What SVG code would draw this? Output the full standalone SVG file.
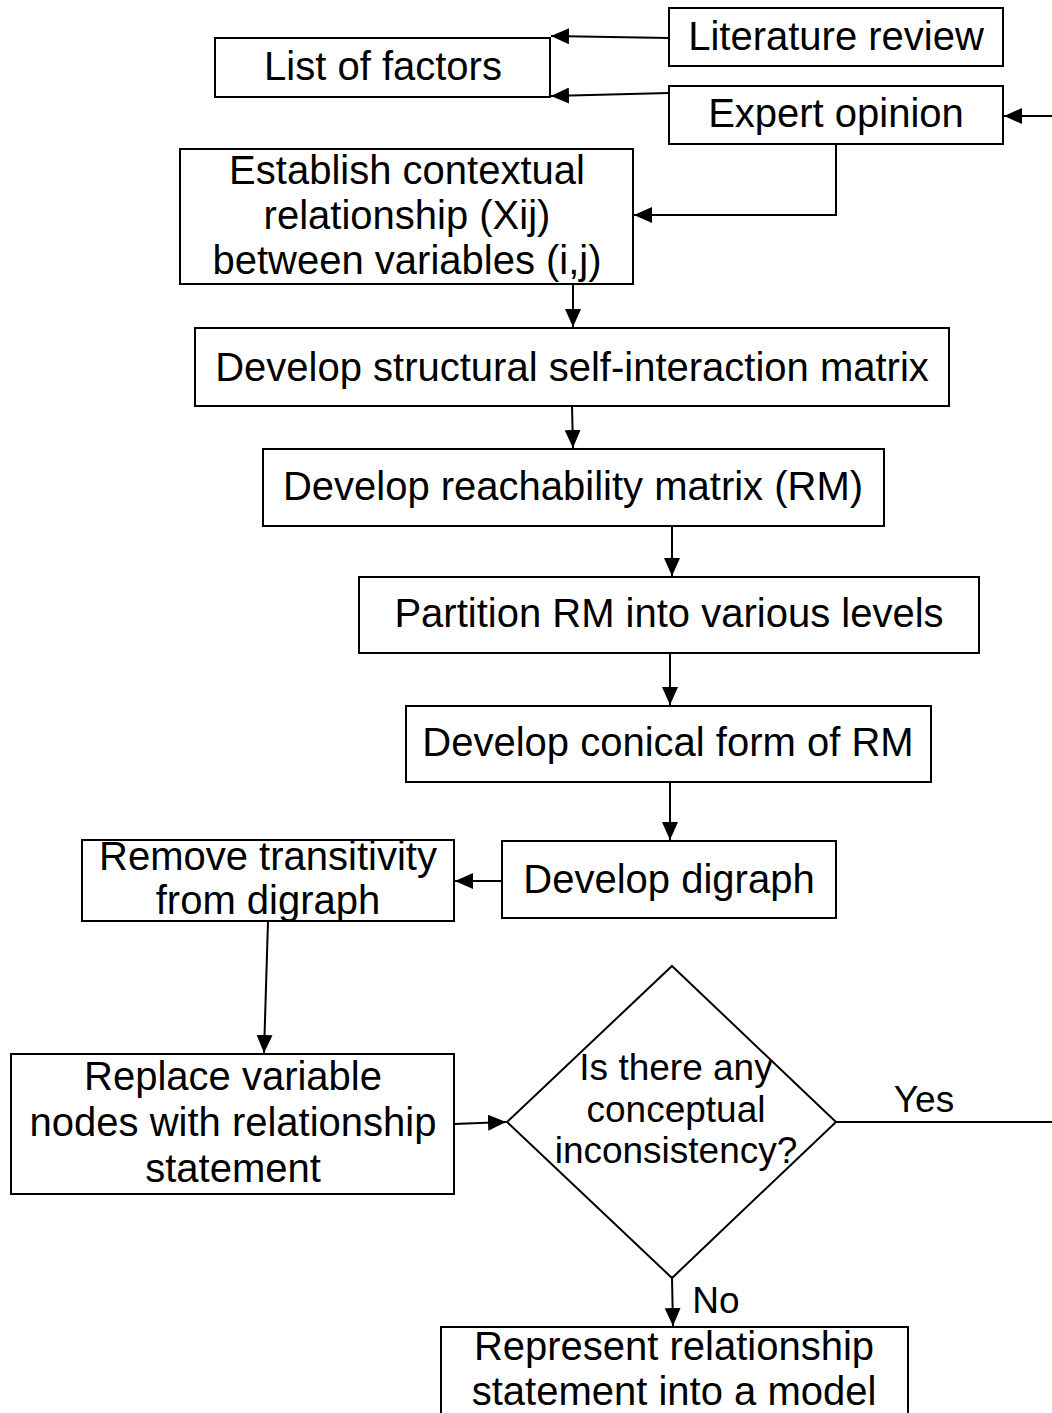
<svg xmlns="http://www.w3.org/2000/svg" width="1052" height="1413" viewBox="0 0 1052 1413">
<style>
.box{fill:#fff;stroke:#000;stroke-width:2}
.t{font-family:"Liberation Sans",Arial,sans-serif;font-size:40px;fill:#000;text-anchor:middle}
.d{font-family:"Liberation Sans",Arial,sans-serif;font-size:37px;fill:#000;text-anchor:middle}
.c{fill:none;stroke:#000;stroke-width:2}
</style>
<defs>
<marker id="ah" viewBox="0 0 18 16" refX="18" refY="8" markerWidth="18" markerHeight="16" markerUnits="userSpaceOnUse" orient="auto">
<path d="M0,0 L18,8 L0,16 Z" fill="#000"/>
</marker>
</defs>
<rect width="1052" height="1413" fill="#fff"/>
<g id="connectors">
<path class="c" d="M669,38 L551,36" marker-end="url(#ah)"/>
<path class="c" d="M669,93 L551,96" marker-end="url(#ah)"/>
<path class="c" d="M836,144 L836,215 L634,215" marker-end="url(#ah)"/>
<path class="c" d="M573,284 L573,327" marker-end="url(#ah)"/>
<path class="c" d="M572,406 L573,448" marker-end="url(#ah)"/>
<path class="c" d="M672,526 L672,576" marker-end="url(#ah)"/>
<path class="c" d="M670,653 L670,705" marker-end="url(#ah)"/>
<path class="c" d="M670,782 L670,840" marker-end="url(#ah)"/>
<path class="c" d="M502,881 L455,881" marker-end="url(#ah)"/>
<path class="c" d="M268,921 L264,1053" marker-end="url(#ah)"/>
<path class="c" d="M454,1124 L506,1122" marker-end="url(#ah)"/>
<path class="c" d="M836,1122 L1054,1122 L1054,116 L1004,116" marker-end="url(#ah)"/>
<path class="c" d="M672,1278 L673,1326" marker-end="url(#ah)"/>
<text class="d" x="924" y="1112">Yes</text>
<text class="d" x="716" y="1313">No</text>
</g>
<g id="lit"><rect class="box" x="669" y="8" width="334" height="58"/><text class="t" x="836" y="50">Literature review</text></g>
<g id="list"><rect class="box" x="215" y="38" width="335" height="59"/><text class="t" x="383" y="80">List of factors</text></g>
<g id="expert"><rect class="box" x="669" y="86" width="334" height="58"/><text class="t" x="836" y="127">Expert opinion</text></g>
<g id="establish"><rect class="box" x="180" y="149" width="453" height="135"/>
<text class="t" x="407" y="184">Establish contextual</text>
<text class="t" x="407" y="229">relationship (Xij)</text>
<text class="t" x="407" y="274">between variables (i,j)</text></g>
<g id="ssim"><rect class="box" x="195" y="328" width="754" height="78"/><text class="t" x="572" y="381">Develop structural self-interaction matrix</text></g>
<g id="rm"><rect class="box" x="263" y="449" width="621" height="77"/><text class="t" x="573" y="500">Develop reachability matrix (RM)</text></g>
<g id="partition"><rect class="box" x="359" y="577" width="620" height="76"/><text class="t" x="669" y="627">Partition RM into various levels</text></g>
<g id="conical"><rect class="box" x="406" y="706" width="525" height="76"/><text class="t" x="668" y="756">Develop conical form of RM</text></g>
<g id="digraph"><rect class="box" x="502" y="841" width="334" height="77"/><text class="t" x="669" y="893">Develop digraph</text></g>
<g id="remove"><rect class="box" x="82" y="840" width="372" height="81"/>
<text class="t" x="268" y="870">Remove transitivity</text>
<text class="t" x="268" y="914">from digraph</text></g>
<g id="replace"><rect class="box" x="11" y="1054" width="443" height="140"/>
<text class="t" x="233" y="1090">Replace variable</text>
<text class="t" x="233" y="1136">nodes with relationship</text>
<text class="t" x="233" y="1182">statement</text></g>
<g id="decision"><polygon class="box" points="672,966 836,1122 672,1278 507,1122"/>
<text class="d" x="676" y="1080">Is there any</text>
<text class="d" x="676" y="1122">conceptual</text>
<text class="d" x="676" y="1163">inconsistency?</text></g>
<g id="represent"><rect class="box" x="441" y="1327" width="467" height="100"/>
<text class="t" x="674" y="1360">Represent relationship</text>
<text class="t" x="674" y="1405">statement into a model</text></g>
</svg>
